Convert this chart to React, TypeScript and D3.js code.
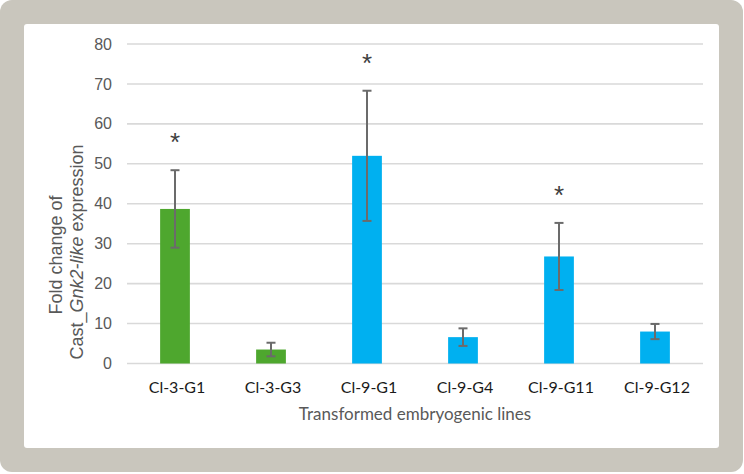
import React from "react";
import * as d3 from "d3";

const categories = ["Cl-3-G1", "Cl-3-G3", "Cl-9-G1", "Cl-9-G4", "Cl-9-G11", "Cl-9-G12"];
const means = [38.7, 3.5, 52.0, 6.6, 26.8, 8.0];
const errors = [9.7, 1.7, 16.3, 2.2, 8.4, 1.9];
const groups = ["Cl-3", "Cl-3", "Cl-9", "Cl-9", "Cl-9", "Cl-9"];
const significance = ["*", "", "*", "", "*", ""];
const yTicks = [0, 10, 20, 30, 40, 50, 60, 70, 80];

const W = 744;
const H = 474;
const plot = { left: 127, right: 703, top: 44, bottom: 363.5 };

export default function App() {
  const x = d3
    .scaleBand<string>()
    .domain(categories)
    .range([plot.left, plot.right])
    .paddingInner(0.69)
    .paddingOuter(0.345);
  const y = d3.scaleLinear().domain([0, 80]).range([plot.bottom, plot.top]);
  const color = d3.scaleOrdinal<string, string>().domain(["Cl-3", "Cl-9"]).range(["#4ea72e", "#00b0f0"]);
  const bw = x.bandwidth();
  const capW = 9;

  return (
    <svg
      width={W}
      height={H}
      style={{ position: "absolute", left: 0, top: 0, display: "block" }}
    >
      <rect x={0} y={0} width={743} height={472} rx={12} ry={12} fill="#c9c6bd" />
      <rect x={24} y={24} width={695} height={424} rx={3} ry={3} fill="#ffffff" />

      {yTicks.map((t) => (
        <g key={t}>
          <line
            x1={plot.left}
            x2={plot.right}
            y1={y(t)}
            y2={y(t)}
            stroke="#d9d9d9"
            strokeWidth={1.6}
          />
          <text
            x={112}
            y={y(t)}
            dy="0.35em"
            textAnchor="end"
            fontFamily="'Liberation Sans', Arial, sans-serif"
            fontSize={16}
            fill="#595959"
          >
            {t}
          </text>
        </g>
      ))}

      {categories.map((c, i) => {
        const cx = (x(c) as number) + bw / 2;
        const top = y(means[i] + errors[i]);
        const bot = y(means[i] - errors[i]);
        return (
          <g key={c}>
            <rect
              x={x(c)}
              y={y(means[i])}
              width={bw}
              height={y(0) - y(means[i])}
              fill={color(groups[i])}
            />
            <line x1={cx} x2={cx} y1={top} y2={bot} stroke="#6b6b6b" strokeWidth={2} />
            <line x1={cx - capW / 2} x2={cx + capW / 2} y1={top} y2={top} stroke="#6b6b6b" strokeWidth={2} />
            <line x1={cx - capW / 2} x2={cx + capW / 2} y1={bot} y2={bot} stroke="#6b6b6b" strokeWidth={2} />
            {significance[i] && (
              <text
                x={cx}
                y={top - 34 + 15}
                textAnchor="middle"
                fontFamily="'Liberation Sans', Arial, sans-serif"
                fontSize={26}
                fill="#404040"
              >
                {significance[i]}
              </text>
            )}
            <text
              x={cx + 2}
              y={393}
              textAnchor="middle"
              fontFamily="Lato, 'Open Sans', sans-serif"
              fontSize={16}
              fill="#1a1a1a"
            >
              {c}
            </text>
          </g>
        );
      })}

      <text
        x={(plot.left + plot.right) / 2}
        y={420}
        textAnchor="middle"
        fontFamily="Lato, 'Open Sans', sans-serif"
        fontSize={17}
        fill="#595959"
      >
        Transformed embryogenic lines
      </text>

      <text
        transform="translate(62,255) rotate(-90)"
        textAnchor="middle"
        fontFamily="'Liberation Sans', Arial, sans-serif"
        fontSize={18}
        fill="#595959"
      >
        Fold change of
      </text>
      <text
        transform="translate(83,252) rotate(-90)"
        textAnchor="middle"
        fontFamily="'Liberation Sans', Arial, sans-serif"
        fontSize={18}
        fill="#595959"
      >
        <tspan>Cast_</tspan>
        <tspan fontStyle="italic">Gnk2-like</tspan>
        <tspan> expression</tspan>
      </text>
    </svg>
  );
}
